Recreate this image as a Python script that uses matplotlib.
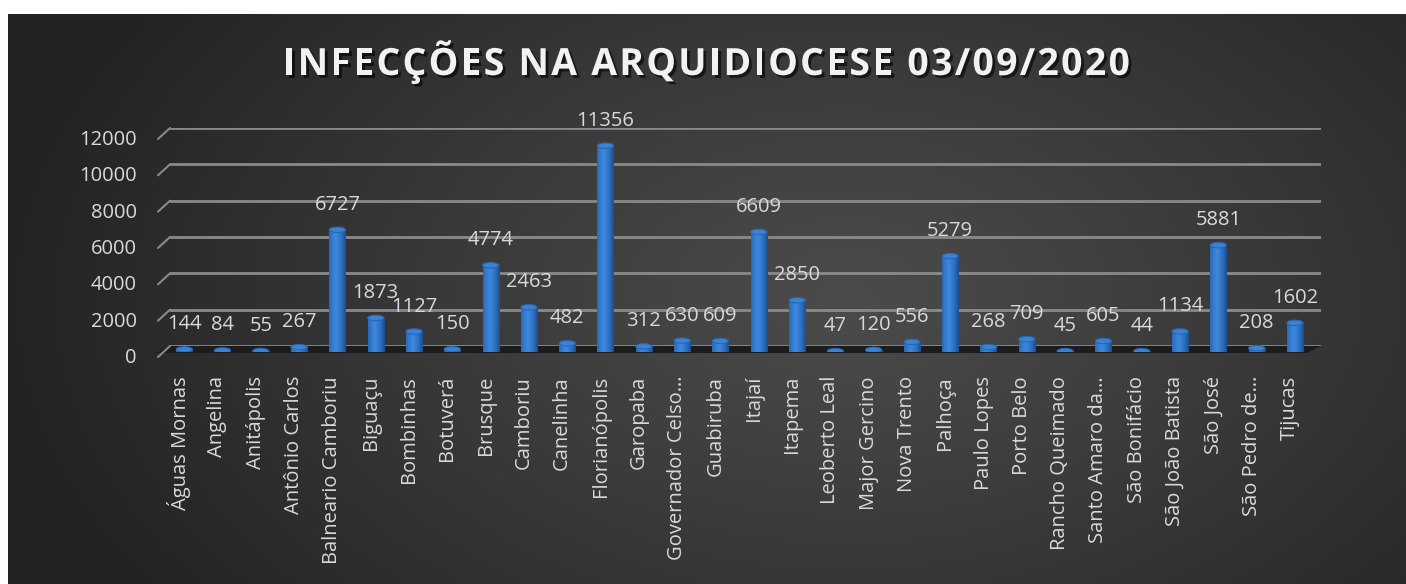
import numpy as np
import matplotlib
matplotlib.use("Agg")
import matplotlib.pyplot as plt
import matplotlib.patheffects as pe
from matplotlib.patches import Ellipse, Polygon

plt.rcParams['font.family'] = ['Open Sans', 'DejaVu Sans']

cidades = ['Águas Mornas', 'Angelina', 'Anitápolis', 'Antônio Carlos', 'Balneario Camboriu',
           'Biguaçu', 'Bombinhas', 'Botuverá', 'Brusque', 'Camboriu', 'Canelinha',
           'Florianópolis', 'Garopaba', 'Governador Celso…', 'Guabiruba', 'Itajaí', 'Itapema',
           'Leoberto Leal', 'Major Gercino', 'Nova Trento', 'Palhoça', 'Paulo Lopes',
           'Porto Belo', 'Rancho Queimado', 'Santo Amaro da…', 'São Bonifácio',
           'São João Batista', 'São José', 'São Pedro de…', 'Tijucas']
casos = [144, 84, 55, 267, 6727, 1873, 1127, 150, 4774, 2463, 482, 11356, 312, 630, 609,
         6609, 2850, 47, 120, 556, 5279, 268, 709, 45, 605, 44, 1134, 5881, 208, 1602]
yticks = [0, 2000, 4000, 6000, 8000, 10000, 12000]
titulo = 'INFECÇÕES NA ARQUIDIOCESE 03/09/2020'

W, H = 1406, 584
fig = plt.figure(figsize=(W / 100, H / 100), dpi=100)
fig.patch.set_facecolor('white')

# dark gradient panel
bg = fig.add_axes([8 / W, 0, 1 - 8 / W, (H - 14) / H])
gx, gy = np.meshgrid(np.linspace(0, 1, 700), np.linspace(0, 1, 300))
d = np.clip(np.sqrt(((gx - 0.6) / 0.62) ** 2 + ((gy - 0.5) / 0.95) ** 2), 0, 1)
v = (0x4b - (0x4b - 0x22) * d ** 1.1) / 255
bg.imshow(np.dstack([v, v, v]), aspect='auto', extent=[0, 1, 0, 1], interpolation='bilinear')
bg.set_xlim(0, 1)
bg.set_ylim(0, 1)
bg.axis('off')

# back wall (gridlines) and front (bars) axes, bars sit 6 px lower
ax = fig.add_axes([170 / W, (H - 346) / H, (1321 - 170) / W, 218 / H])
bx = fig.add_axes([170 / W, (H - 352) / H, (1321 - 170) / W, 218 / H])
x = np.arange(len(cidades))
for a in (ax, bx):
    a.patch.set_alpha(0)
    a.set_xlim(-0.37, 29.68)
    a.set_ylim(0, 12000)
    for s in a.spines.values():
        s.set_visible(False)
    a.set_xticks([])
    a.set_yticks([])

# floor shadow
ax.add_patch(Polygon([(0, 0), (1, 0), (0.988, -0.032), (-0.012, -0.032)], closed=True,
                     transform=ax.transAxes, facecolor='#1c1c1c', edgecolor='none',
                     clip_on=False, zorder=1))

# gridlines with 3D diagonal stubs
for t in yticks:
    ax.axhline(t, color='#8a8a8a', lw=2, zorder=2)
    ax.annotate('', xy=(0, t), xycoords=('axes fraction', 'data'),
                xytext=(-12, -11), textcoords='offset pixels',
                arrowprops=dict(arrowstyle='-', color='#8a8a8a', lw=1.5,
                                shrinkA=0, shrinkB=0), annotation_clip=False)
    ax.annotate(str(t), xy=(0, t), xycoords=('axes fraction', 'data'),
                xytext=(-33, -12), textcoords='offset pixels', ha='right', va='center',
                fontsize=14.5, color='#d9d9d9', annotation_clip=False)

# bars with cylinder shading
grad = np.linspace(0, 1, 64)
shade = 1 - np.abs(grad - 0.4) * 1.3
cmap = matplotlib.colors.LinearSegmentedColormap.from_list(
    'cyl', ['#1d4f8f', '#2f73c4', '#3d89de'])
bars = bx.bar(x, casos, width=0.42, color='#2f73c4', edgecolor='none', zorder=3)
for b, val in zip(bars, casos):
    im = bx.imshow(shade[np.newaxis, :], cmap=cmap, aspect='auto', zorder=3,
                   extent=[b.get_x(), b.get_x() + b.get_width(), 0, val])
    im.set_clip_path(b)
    bx.add_patch(Ellipse((b.get_x() + b.get_width() / 2, val), b.get_width(), 300,
                         facecolor='#3a82d6', edgecolor='#2a66b0', lw=0.8, zorder=4))
bx.set_xlim(-0.37, 29.68)
bx.set_ylim(0, 12000)

for xi, val in zip(x, casos):
    bx.annotate(str(val), xy=(xi, val), xytext=(0, 25), textcoords='offset pixels',
                ha='center', va='center', fontsize=14.5, color='#d9d9d9', zorder=5,
                annotation_clip=False)

for xi, nome in zip(x, cidades):
    ax.annotate(nome, xy=(xi, 0), xytext=(-5, -30), textcoords='offset pixels',
                ha='center', va='top', rotation=90, fontsize=14.5, color='#d9d9d9',
                annotation_clip=False)

# title with letter spacing
renderer = fig.canvas.get_renderer()
def largura(s):
    t = fig.text(0, 0, s, fontsize=27, fontweight='bold')
    w = t.get_window_extent(renderer).width
    t.remove()
    return w
base = largura('HH')
larg = [largura('H' + c + 'H') - base for c in titulo]
esp = (847 - sum(larg)) / (len(titulo) - 1)
pos = 283
for c, w in zip(titulo, larg):
    fig.text(pos / W, (H - 75) / H, c, ha='left', va='baseline', fontsize=27,
             fontweight='bold', color='#f2f2f2',
             path_effects=[pe.withSimplePatchShadow(offset=(2, -2), shadow_rgbFace='black',
                                                    alpha=0.6)])
    pos += w + esp

fig.savefig('out.png', dpi=100)
